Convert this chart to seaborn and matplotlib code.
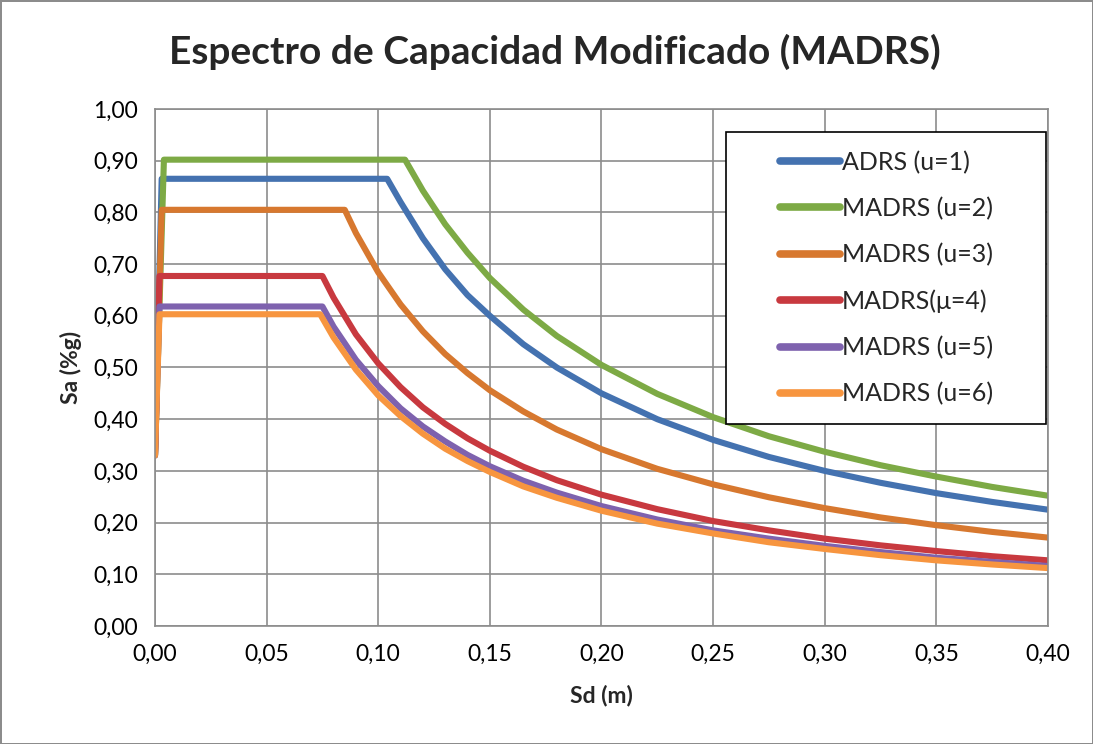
import numpy as np
import pandas as pd
import matplotlib
matplotlib.use("Agg")
import matplotlib.pyplot as plt
from matplotlib.ticker import FuncFormatter, MultipleLocator
from matplotlib.patches import Rectangle
import seaborn as sns

# Sd (m) / Sa (g) readings for each spectrum
sd_adrs = [0.0, 0.003, 0.104, 0.11, 0.12, 0.13, 0.14, 0.15, 0.165, 0.18, 0.20, 0.225, 0.25, 0.275, 0.30, 0.325, 0.35, 0.375, 0.40]
sa_adrs = [0.33, 0.865, 0.865, 0.82, 0.75, 0.69, 0.64, 0.60, 0.545, 0.50, 0.45, 0.40, 0.36, 0.327, 0.30, 0.277, 0.257, 0.24, 0.225]

sd_u2 = [0.0, 0.004, 0.112, 0.12, 0.13, 0.14, 0.15, 0.165, 0.18, 0.20, 0.225, 0.25, 0.275, 0.30, 0.325, 0.35, 0.375, 0.40]
sa_u2 = [0.33, 0.902, 0.902, 0.842, 0.777, 0.722, 0.673, 0.612, 0.561, 0.505, 0.449, 0.404, 0.367, 0.337, 0.311, 0.289, 0.269, 0.252]

sd_u3 = [0.0, 0.003, 0.085, 0.09, 0.10, 0.11, 0.12, 0.13, 0.14, 0.15, 0.165, 0.18, 0.20, 0.225, 0.25, 0.275, 0.30, 0.325, 0.35, 0.375, 0.40]
sa_u3 = [0.33, 0.805, 0.805, 0.76, 0.684, 0.622, 0.57, 0.526, 0.489, 0.456, 0.415, 0.38, 0.342, 0.304, 0.274, 0.249, 0.228, 0.21, 0.195, 0.182, 0.171]

sd_u4 = [0.0, 0.002, 0.075, 0.08, 0.09, 0.10, 0.11, 0.12, 0.13, 0.14, 0.15, 0.165, 0.18, 0.20, 0.225, 0.25, 0.275, 0.30, 0.325, 0.35, 0.375, 0.40]
sa_u4 = [0.33, 0.677, 0.677, 0.635, 0.564, 0.508, 0.462, 0.423, 0.391, 0.363, 0.339, 0.308, 0.282, 0.254, 0.226, 0.203, 0.185, 0.169, 0.156, 0.145, 0.135, 0.127]

sd_u5 = [0.0, 0.002, 0.075, 0.08, 0.09, 0.10, 0.11, 0.12, 0.13, 0.14, 0.15, 0.165, 0.18, 0.20, 0.225, 0.25, 0.275, 0.30, 0.325, 0.35, 0.375, 0.40]
sa_u5 = [0.33, 0.618, 0.618, 0.579, 0.515, 0.464, 0.421, 0.386, 0.357, 0.331, 0.309, 0.281, 0.258, 0.232, 0.206, 0.185, 0.169, 0.155, 0.143, 0.132, 0.124, 0.116]

sd_u6 = [0.0, 0.002, 0.074, 0.08, 0.09, 0.10, 0.11, 0.12, 0.13, 0.14, 0.15, 0.165, 0.18, 0.20, 0.225, 0.25, 0.275, 0.30, 0.325, 0.35, 0.375, 0.40]
sa_u6 = [0.33, 0.603, 0.603, 0.558, 0.496, 0.446, 0.406, 0.372, 0.343, 0.319, 0.298, 0.27, 0.248, 0.223, 0.198, 0.179, 0.162, 0.149, 0.137, 0.127, 0.119, 0.112]

labels = ["ADRS (u=1)", "MADRS (u=2)", "MADRS (u=3)", "MADRS(\u03bc=4)", "MADRS (u=5)", "MADRS (u=6)"]
colors = ["#4472B0", "#7DAA45", "#D7782F", "#C8393F", "#7E62AE", "#F7953F"]

series = [(sd_adrs, sa_adrs), (sd_u2, sa_u2), (sd_u3, sa_u3),
          (sd_u4, sa_u4), (sd_u5, sa_u5), (sd_u6, sa_u6)]

frames = []
for lab, (sd, sa) in zip(labels, series):
    frames.append(pd.DataFrame({"Sd": sd, "Sa": sa, "serie": lab}))
df = pd.concat(frames, ignore_index=True)

sns.set_theme(style="white")
plt.rcParams['font.family'] = ['Lato', 'DejaVu Sans']

fig = plt.figure(figsize=(10.93, 7.44), dpi=100)
ax = fig.add_axes([0.1418, 0.1586, 0.817, 0.6949])

sns.lineplot(data=df, x="Sd", y="Sa", hue="serie", hue_order=labels,
             palette=dict(zip(labels, colors)), sort=False, estimator=None,
             linewidth=4.4, ax=ax, legend=False,
             solid_joinstyle="round", solid_capstyle="round")

ax.set_xlim(0, 0.40)
ax.set_ylim(0, 1.0)
ax.xaxis.set_major_locator(MultipleLocator(0.05))
ax.yaxis.set_major_locator(MultipleLocator(0.10))
comma = FuncFormatter(lambda v, p: f"{v:.2f}".replace(".", ","))
ax.xaxis.set_major_formatter(comma)
ax.yaxis.set_major_formatter(comma)

grid_col = "#8c8c8c"
ax.grid(True, color=grid_col, linewidth=1.2)
ax.set_axisbelow(True)
for s in ax.spines.values():
    s.set_color(grid_col)
    s.set_linewidth(1.2)
ax.tick_params(axis="both", which="major", direction="out", length=6,
               width=1.2, color=grid_col, labelsize=16.5, labelcolor="black")
ax.tick_params(axis="x", pad=7)
ax.tick_params(axis="y", pad=6)

ax.set_xlabel("Sd (m)", fontsize=16.5, fontweight="bold", labelpad=14)
ax.set_ylabel("Sa (%g)", fontsize=16.5, fontweight="bold", labelpad=8)
fig.suptitle("Espectro de Capacidad Modificado (MADRS)", fontsize=28,
             fontweight="bold", x=0.508, y=0.955)

# legend box
ax.add_patch(Rectangle((0.64, 0.39), 0.358, 0.565, transform=ax.transAxes,
                       facecolor="white", edgecolor="black", linewidth=1.2,
                       zorder=4))
handles = [plt.Line2D([], [], color=c, linewidth=5.5, solid_capstyle="round") for c in colors]
leg = ax.legend(handles, labels, loc="center", bbox_to_anchor=(0.819, 0.673),
                frameon=False, fontsize=18, handlelength=2.4, handletextpad=0.08,
                labelspacing=0.92)
leg.set_zorder(5)

fig.patch.set_edgecolor("#8c8c8c")
fig.patch.set_linewidth(2)
fig.savefig("out.png", dpi=100, edgecolor=fig.get_edgecolor())
